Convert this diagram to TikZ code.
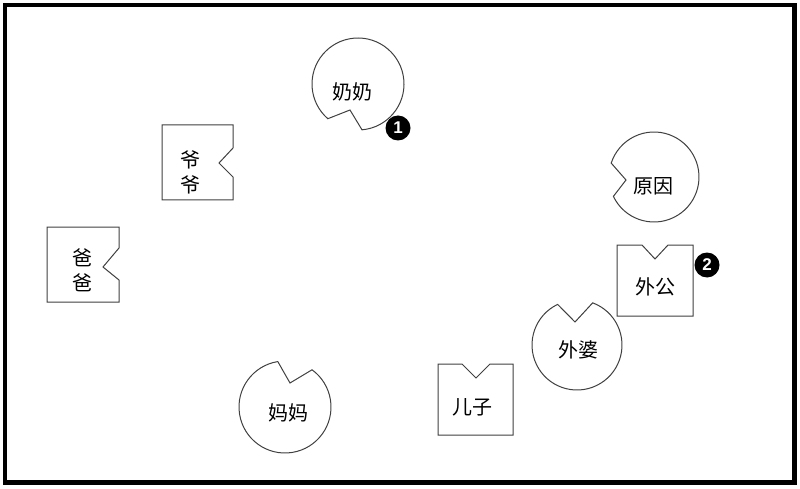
\documentclass[tikz,border=0pt]{standalone}
\usepackage{fontspec}
\newfontfamily\cjk{Noto Sans CJK SC}
\newfontfamily\numfont{Liberation Sans}
\tikzset{
	outerframe/.style={black, line width=4.5pt},
	cutout/.style={black!75, line width=1pt, fill=white},
	relname/.style={font=\cjk\fontsize{20}{25}\selectfont, text=black, align=center},
	badge/.style={circle, fill=black, text=white, inner sep=0pt, minimum size=25pt,
		font=\numfont\bfseries\fontsize{17}{17}\selectfont},
}

\begin{document}
\begin{tikzpicture}[x=1pt,y=1pt]
	\useasboundingbox (0,0) rectangle (800,488);
	
	% Outer frame
	\draw[outerframe] (5,5.5) rectangle (794.5,483);
	
	% Grandmother (notch lower left) with badge 1
	\draw[cutout] (358,404) ++(275:46) arc[start angle=275, end angle=589, radius=46] -- (350,378) -- cycle;
	\node[relname] (nainai) at (352,396) {奶奶};
	\node[badge] (one) at (398,360) {1};
	
	% Grandfather (notch on the right)
	\draw[cutout] (162,288) -- (233,288) -- (233,311) -- (219,325) -- (233,340) -- (233,363) -- (162,363) -- cycle;
	\node[relname] (yeye) at (190,316) {爷\\爷};
	
	% Father (notch on the right)
	\draw[cutout] (47,186) -- (119,186) -- (119,208) -- (103,221) -- (119,240) -- (119,261) -- (47,261) -- cycle;
	\node[relname] (baba) at (82,218) {爸\\爸};
	
	% Reason (notch on the left)
	\draw[cutout] (654,311) ++(205.5:45) arc[start angle=205.5, end angle=522, radius=45] -- (626,308) -- cycle;
	\node[relname] (yuanyin) at (653,302) {原因};
	
	% Maternal grandfather (notch on top) with badge 2
	\draw[cutout] (617,172) -- (693,172) -- (693,243) -- (668,243) -- (655,229) -- (642,243) -- (617,243) -- cycle;
	\node[relname] (waigong) at (655,201) {外公};
	\node[badge] (two) at (707,223) {2};
	
	% Maternal grandmother (notch on top)
	\draw[cutout] (577,143) ++(115.5:45) arc[start angle=115.5, end angle=429.6, radius=45] -- (575,166) -- cycle;
	\node[relname] (waipo) at (578,138) {外婆};
	
	% Son (notch on top)
	\draw[cutout] (438,53) -- (513,53) -- (513,124) -- (490,124) -- (476,110) -- (462,124) -- (438,124) -- cycle;
	\node[relname] (erzi) at (472,81) {儿子};
	
	% Mother (notch upper right)
	\draw[cutout] (285,81) ++(99:46) arc[start angle=99, end angle=414, radius=46] -- (290,105) -- cycle;
	\node[relname] (mama) at (288,75) {妈妈};
	
\end{tikzpicture}
\end{document}
